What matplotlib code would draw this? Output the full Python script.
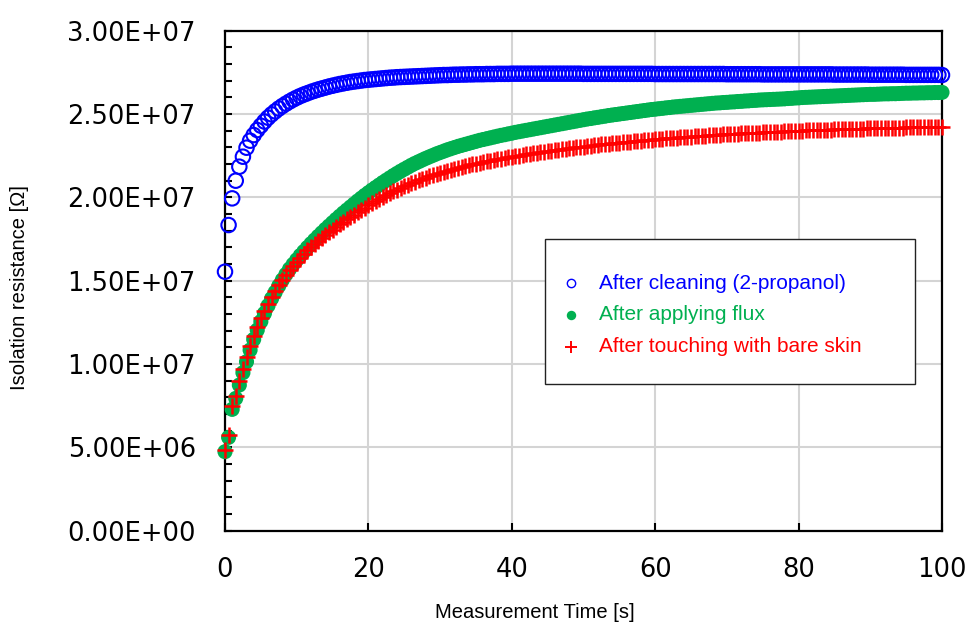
import numpy as np
import matplotlib
matplotlib.use("Agg")
import matplotlib.pyplot as plt
from matplotlib.lines import Line2D
from matplotlib.patches import Rectangle
from matplotlib.ticker import MultipleLocator, FuncFormatter

# ---------------- data (resistance in units of 1e6 Ohm) ----------------
time_s = np.arange(0, 100.5, 0.5)   # measurement grid, 0.5 s step

after_cleaning = [
    15.54, 18.34, 19.94, 21.00, 21.84, 22.44, 22.98, 23.40, 23.74, 24.04,
    24.30, 24.55, 24.78, 24.98, 25.16, 25.33, 25.48, 25.62, 25.75, 25.87,
    25.98, 26.08, 26.17, 26.25, 26.33, 26.40, 26.47, 26.53, 26.59, 26.65,
    26.70, 26.75, 26.80, 26.84, 26.88, 26.92, 26.95, 26.98, 27.01, 27.04,
    27.06, 27.08, 27.10, 27.12, 27.14, 27.16, 27.18, 27.19, 27.21, 27.22,
    27.23, 27.24, 27.25, 27.26, 27.27, 27.28, 27.29, 27.30, 27.31, 27.32,
    27.33, 27.34, 27.34, 27.35, 27.36, 27.36, 27.37, 27.37, 27.38, 27.38,
    27.39, 27.39, 27.39, 27.40, 27.40, 27.40, 27.41, 27.41, 27.41, 27.41,
    27.42, 27.42, 27.42, 27.42, 27.42, 27.42, 27.42, 27.42, 27.42, 27.42,
    27.42, 27.42, 27.42, 27.42, 27.42, 27.42, 27.42, 27.42, 27.42, 27.42,
    27.41, 27.41, 27.41, 27.41, 27.41, 27.41, 27.41, 27.41, 27.41, 27.41,
    27.41, 27.41, 27.41, 27.41, 27.41, 27.41, 27.41, 27.41, 27.41, 27.41,
    27.40, 27.40, 27.40, 27.40, 27.40, 27.40, 27.40, 27.40, 27.40, 27.40,
    27.40, 27.40, 27.40, 27.40, 27.40, 27.40, 27.40, 27.40, 27.40, 27.40,
    27.39, 27.39, 27.39, 27.39, 27.39, 27.39, 27.39, 27.39, 27.39, 27.39,
    27.38, 27.38, 27.38, 27.38, 27.38, 27.38, 27.38, 27.38, 27.38, 27.38,
    27.38, 27.38, 27.38, 27.38, 27.38, 27.38, 27.38, 27.38, 27.38, 27.38,
    27.37, 27.37, 27.37, 27.37, 27.37, 27.37, 27.37, 27.37, 27.37, 27.37,
    27.36, 27.36, 27.36, 27.36, 27.36, 27.36, 27.36, 27.36, 27.36, 27.36,
    27.35, 27.35, 27.35, 27.35, 27.35, 27.35, 27.35, 27.35, 27.35, 27.35,
    27.34,
]

after_flux = [
    4.74, 5.60, 7.28, 7.94, 8.74, 9.48, 10.14, 10.84, 11.48, 12.04,
    12.55, 13.04, 13.50, 13.93, 14.31, 14.69, 15.05, 15.38, 15.70, 15.98,
    16.25, 16.51, 16.75, 16.99, 17.22, 17.44, 17.66, 17.87, 18.08, 18.28,
    18.48, 18.68, 18.87, 19.06, 19.24, 19.42, 19.60, 19.78, 19.95, 20.12,
    20.28, 20.44, 20.59, 20.74, 20.89, 21.03, 21.17, 21.31, 21.44, 21.57,
    21.69, 21.81, 21.93, 22.04, 22.14, 22.24, 22.34, 22.43, 22.52, 22.61,
    22.69, 22.77, 22.85, 22.92, 22.99, 23.06, 23.12, 23.18, 23.24, 23.30,
    23.36, 23.42, 23.47, 23.52, 23.57, 23.62, 23.67, 23.72, 23.76, 23.81,
    23.85, 23.90, 23.94, 23.98, 24.02, 24.06, 24.10, 24.14, 24.18, 24.22,
    24.26, 24.30, 24.34, 24.38, 24.42, 24.46, 24.50, 24.54, 24.58, 24.62,
    24.66, 24.70, 24.73, 24.77, 24.80, 24.84, 24.87, 24.91, 24.94, 24.97,
    25.00, 25.03, 25.06, 25.09, 25.12, 25.15, 25.18, 25.21, 25.24, 25.27,
    25.29, 25.32, 25.34, 25.37, 25.39, 25.42, 25.44, 25.46, 25.48, 25.50,
    25.52, 25.54, 25.56, 25.58, 25.60, 25.62, 25.64, 25.66, 25.67, 25.69,
    25.70, 25.72, 25.73, 25.75, 25.76, 25.78, 25.79, 25.81, 25.82, 25.84,
    25.85, 25.86, 25.87, 25.88, 25.89, 25.90, 25.91, 25.93, 25.94, 25.96,
    25.97, 25.99, 26.00, 26.01, 26.02, 26.03, 26.04, 26.05, 26.06, 26.07,
    26.08, 26.09, 26.10, 26.11, 26.12, 26.13, 26.14, 26.15, 26.16, 26.17,
    26.18, 26.18, 26.19, 26.20, 26.21, 26.21, 26.22, 26.22, 26.23, 26.24,
    26.25, 26.25, 26.26, 26.26, 26.27, 26.27, 26.28, 26.28, 26.29, 26.29,
    26.30,
]

after_touching = [
    4.82, 5.72, 7.50, 8.08, 8.96, 9.72, 10.40, 11.06, 11.66, 12.22,
    12.74, 13.20, 13.63, 14.03, 14.40, 14.74, 15.06, 15.36, 15.64, 15.90,
    16.15, 16.38, 16.61, 16.83, 17.04, 17.22, 17.40, 17.57, 17.74, 17.91,
    18.07, 18.23, 18.38, 18.53, 18.68, 18.83, 18.97, 19.11, 19.25, 19.39,
    19.52, 19.65, 19.78, 19.90, 20.02, 20.14, 20.25, 20.36, 20.46, 20.56,
    20.66, 20.76, 20.85, 20.94, 21.02, 21.10, 21.18, 21.26, 21.33, 21.40,
    21.47, 21.54, 21.60, 21.66, 21.72, 21.78, 21.83, 21.88, 21.93, 21.98,
    22.03, 22.08, 22.12, 22.17, 22.21, 22.25, 22.29, 22.33, 22.37, 22.41,
    22.44, 22.48, 22.51, 22.55, 22.58, 22.61, 22.64, 22.67, 22.70, 22.73,
    22.76, 22.79, 22.82, 22.85, 22.88, 22.91, 22.94, 22.97, 23.00, 23.02,
    23.05, 23.08, 23.10, 23.13, 23.15, 23.18, 23.20, 23.23, 23.25, 23.27,
    23.29, 23.31, 23.33, 23.35, 23.37, 23.39, 23.41, 23.43, 23.45, 23.47,
    23.49, 23.50, 23.52, 23.54, 23.56, 23.57, 23.59, 23.60, 23.62, 23.63,
    23.65, 23.66, 23.68, 23.69, 23.71, 23.72, 23.74, 23.75, 23.77, 23.78,
    23.79, 23.80, 23.82, 23.83, 23.84, 23.85, 23.86, 23.87, 23.88, 23.89,
    23.90, 23.91, 23.92, 23.93, 23.94, 23.95, 23.96, 23.97, 23.98, 23.99,
    24.00, 24.01, 24.02, 24.02, 24.03, 24.04, 24.05, 24.05, 24.06, 24.07,
    24.08, 24.08, 24.09, 24.10, 24.11, 24.11, 24.12, 24.12, 24.13, 24.14,
    24.15, 24.15, 24.16, 24.16, 24.17, 24.17, 24.18, 24.18, 24.19, 24.19,
    24.20, 24.20, 24.21, 24.21, 24.22, 24.22, 24.23, 24.23, 24.24, 24.24,
    24.25,
]

series_labels = ["After cleaning (2-propanol)", "After applying flux",
                 "After touching with bare skin"]
series_colors = ["#0000FF", "#00B050", "#FF0000"]
x_ticks = [0, 20, 40, 60, 80, 100]
y_ticks = [0, 5e6, 1e7, 1.5e7, 2e7, 2.5e7, 3e7]
x_title = "Measurement Time [s]"
y_title = "Isolation resistance [Ω]"

# ---------------- figure ----------------
W, H = 966, 625
fig = plt.figure(figsize=(W / 100, H / 100), dpi=100)
fig.patch.set_facecolor("white")

ax_l, ax_r, ax_t, ax_b = 225, 942, 30.7, 530.7
ax = fig.add_axes([ax_l / W, 1 - ax_b / H, (ax_r - ax_l) / W, (ax_b - ax_t) / H])

scale = 1e6
ax.scatter(time_s, np.array(after_cleaning) * scale, s=108, facecolors="none",
           edgecolors=series_colors[0], linewidths=1.5, clip_on=False, zorder=3)
ax.scatter(time_s, np.array(after_flux) * scale, s=118, c=series_colors[1],
           edgecolors="none", clip_on=False, zorder=4)
ax.scatter(time_s, np.array(after_touching) * scale, s=120, marker="+",
           c=series_colors[2], linewidths=1.8, clip_on=False, zorder=5)

ax.set_xlim(0, 100)
ax.set_ylim(0, 3e7)
ax.set_xticks(x_ticks)
ax.set_yticks(y_ticks)
ax.yaxis.set_minor_locator(MultipleLocator(1e6))
ax.yaxis.set_major_formatter(FuncFormatter(lambda v, p: f"{v:.2E}"))
ax.xaxis.set_major_formatter(FuncFormatter(lambda v, p: f"{v:.0f}"))

ax.grid(True, which="major", color="#d4d4d4", linewidth=1.5, zorder=0)
ax.set_axisbelow(True)
for s in ax.spines.values():
    s.set_linewidth(1.6)
    s.set_color("black")

tick_font = "DejaVu Sans"
ax.tick_params(axis="y", which="major", direction="in", length=5, width=1.5,
               pad=21, labelsize=18.5, left=True, right=False)
ax.tick_params(axis="y", which="minor", direction="in", length=5, width=1.5,
               left=True, right=False)
ax.tick_params(axis="x", which="major", direction="in", length=5.5, width=1.5,
               pad=19, labelsize=18.5, bottom=True, top=False)
for lab in ax.get_xticklabels() + ax.get_yticklabels():
    lab.set_fontfamily(tick_font)

label_font = ["Liberation Sans", "DejaVu Sans"]
fig.text(535 / W, 1 - 613 / H, x_title, ha="center", va="center",
         fontsize=14.5, family=label_font)
fig.text(20 / W, 1 - 288 / H, y_title, ha="center", va="center",
         rotation=90, fontsize=14.5, family=label_font)

# ---------------- legend (drawn as a box with entries) ----------------
lx0, ly0, lx1, ly1 = 545, 239.3, 915, 384.3
fig.add_artist(Rectangle((lx0 / W, 1 - ly1 / H), (lx1 - lx0) / W, (ly1 - ly0) / H,
                         transform=fig.transFigure, facecolor="white",
                         edgecolor="#222222", linewidth=1.0, zorder=10))
rows_y = [283.3, 315.0, 346.7]
mk = [dict(marker="o", markerfacecolor="none", markeredgecolor=series_colors[0],
           markersize=6.0, markeredgewidth=1.0),
      dict(marker="o", markerfacecolor=series_colors[1], markeredgecolor="none",
           markersize=6.8),
      dict(marker="+", markeredgecolor=series_colors[2], markersize=8.5,
           markeredgewidth=1.4)]
for lab, col, ry, m in zip(series_labels, series_colors, rows_y, mk):
    fig.add_artist(Line2D([571 / W], [1 - ry / H], transform=fig.transFigure,
                          linestyle="none", zorder=11, **m))
    fig.text(599 / W, 1 - ry / H, lab, ha="left", va="center", color=col,
             fontsize=15, family=label_font, zorder=11)

fig.savefig("out.png", dpi=100, facecolor="white")
